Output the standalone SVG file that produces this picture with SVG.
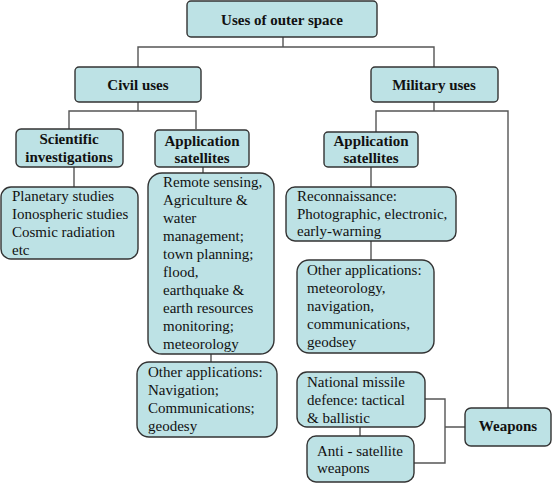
<svg xmlns="http://www.w3.org/2000/svg" width="552" height="483" viewBox="0 0 552 483">
<style>
.box{fill:#bde2e5;stroke:#333;stroke-width:1.4}
.t{font-family:'Liberation Serif','Times New Roman',Tinos,'DejaVu Serif','Noto Serif',serif;font-size:15px;fill:#111}
.b{font-weight:bold;text-anchor:middle}
.c{fill:none;stroke:#555;stroke-width:1.4}
</style>
<rect width="552" height="483" fill="#fff"/>
<g id="connectors">
<path class="c" d="M283 37V47M138 67V47H434V67"/>
<path class="c" d="M138 102V111M69 129V111H196V129"/>
<path class="c" d="M434 102V111M376 132V111H508V408"/>
<path class="c" d="M74 167V187M203 167V173M211 354V362"/>
<path class="c" d="M371 167V187M371 241V260M360 427V436"/>
<path class="c" d="M425 399H445V463H414M445 427H465"/>
</g>
<g id="root"><rect class="box" x="187" y="1" width="190" height="36" rx="4"/><text class="t b" x="282" y="25" font-family="Liberation Serif, serif">Uses of outer space</text></g>
<g id="civil"><rect class="box" x="75" y="67" width="126" height="35" rx="4"/><text class="t b" x="138" y="90">Civil uses</text></g>
<g id="military"><rect class="box" x="371" y="67" width="127" height="35" rx="4"/><text class="t b" x="434" y="90">Military uses</text></g>
<g id="scientific"><rect class="box" x="16" y="129" width="107" height="38" rx="5"/><text class="t b" x="69" y="144">Scientific</text><text class="t b" x="69" y="162">investigations</text></g>
<g id="civil-appsat"><rect class="box" x="155" y="130" width="94" height="37" rx="4"/><text class="t b" x="202" y="146">Application</text><text class="t b" x="202" y="163">satellites</text></g>
<g id="mil-appsat"><rect class="box" x="324" y="132" width="94" height="35" rx="4"/><text class="t b" x="371" y="146">Application</text><text class="t b" x="371" y="163">satellites</text></g>
<g id="sci-details"><rect class="box" x="1" y="187" width="137" height="72" rx="10"/><text class="t" x="12"><tspan x="12" y="201">Planetary studies</tspan><tspan x="12" y="219">Ionospheric studies</tspan><tspan x="12" y="237">Cosmic radiation</tspan><tspan x="12" y="255">etc</tspan></text></g>
<g id="remote-sensing"><rect class="box" x="148" y="173" width="126" height="181" rx="14"/><text class="t"><tspan x="163" y="187">Remote sensing,</tspan><tspan x="163" y="205">Agriculture &amp;</tspan><tspan x="163" y="223">water</tspan><tspan x="163" y="241">management;</tspan><tspan x="163" y="259">town planning;</tspan><tspan x="163" y="277">flood,</tspan><tspan x="163" y="295">earthquake &amp;</tspan><tspan x="163" y="313">earth resources</tspan><tspan x="163" y="331">monitoring;</tspan><tspan x="163" y="349">meteorology</tspan></text></g>
<g id="civil-other"><rect class="box" x="137" y="362" width="140" height="75" rx="12"/><text class="t"><tspan x="148" y="377">Other applications:</tspan><tspan x="148" y="395">Navigation;</tspan><tspan x="148" y="413">Communications;</tspan><tspan x="148" y="431">geodesy</tspan></text></g>
<g id="reconnaissance"><rect class="box" x="286" y="187" width="170" height="54" rx="9"/><text class="t"><tspan x="297" y="201">Reconnaissance:</tspan><tspan x="297" y="219">Photographic, electronic,</tspan><tspan x="297" y="236">early-warning</tspan></text></g>
<g id="mil-other"><rect class="box" x="297" y="260" width="137" height="93" rx="12"/><text class="t"><tspan x="307" y="275">Other applications:</tspan><tspan x="307" y="293">meteorology,</tspan><tspan x="307" y="311">navigation,</tspan><tspan x="307" y="329">communications,</tspan><tspan x="307" y="347">geodsey</tspan></text></g>
<g id="missile-defence"><rect class="box" x="297" y="372" width="128" height="55" rx="10"/><text class="t"><tspan x="307" y="387">National missile</tspan><tspan x="307" y="405">defence: tactical</tspan><tspan x="307" y="423">&amp; ballistic</tspan></text></g>
<g id="anti-satellite"><rect class="box" x="307" y="436" width="107" height="46" rx="9"/><text class="t"><tspan x="317" y="456">Anti - satellite</tspan><tspan x="317" y="473">weapons</tspan></text></g>
<g id="weapons"><rect class="box" x="465" y="408" width="86" height="38" rx="6"/><text class="t b" x="508" y="431">Weapons</text></g>
</svg>
